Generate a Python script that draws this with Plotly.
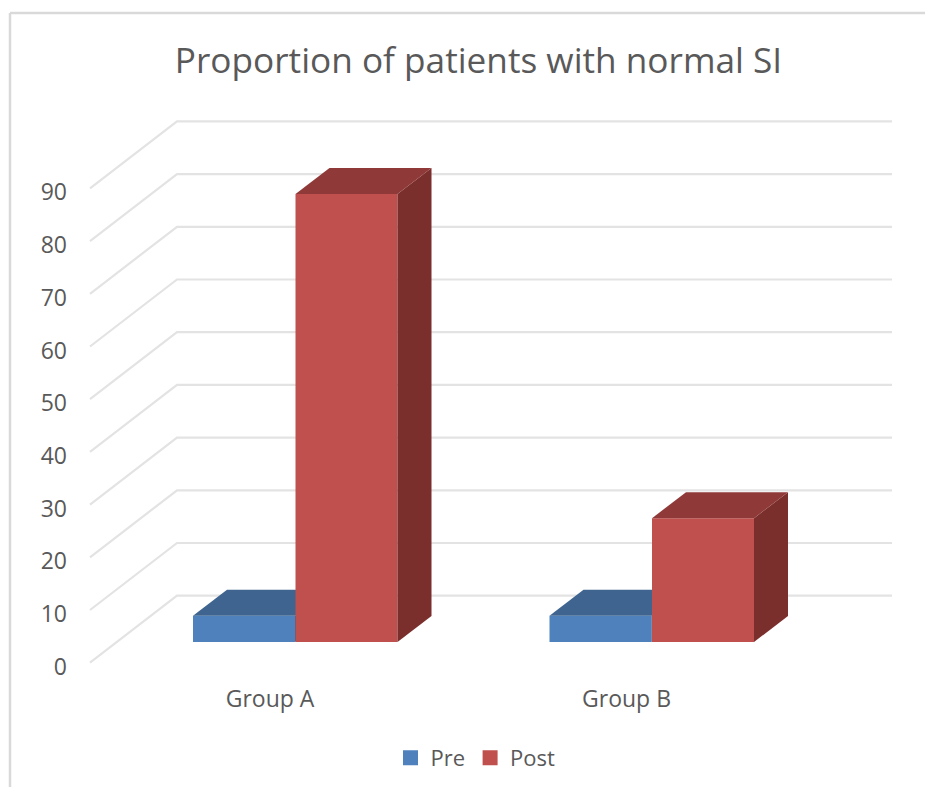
import plotly.graph_objects as go

# ---- data ----
categories = ["Group A", "Group B"]
pre_values = [5, 5]
post_values = [85, 23.5]
y_ticks = [0, 10, 20, 30, 40, 50, 60, 70, 80, 90]

# ---- pseudo-3D projection, in axis units ----
PX_X = 356.5      # pixels per category step
PX_Y = 5.27       # pixels per value unit
wall_dx, wall_dy = 87 / PX_X, 67 / PX_Y     # front plane to back wall
bar_dx, bar_dy = 34 / PX_X, 26 / PX_Y       # depth of one bar
floor = 20.7 / PX_Y                         # bar floor seen in the front plane
bar_w = 102 / PX_X
pre_off, post_off = -77 / PX_X, 25.5 / PX_X   # bar left edge relative to tick
wall_left = -180 / PX_X                     # front end of the grid lines
wall_right = 622 / PX_X

FONT = "Open Sans, Noto Sans, sans-serif"
TXT = "#595959"
GRID = "#e3e3e3"

fig = go.Figure()

# grid: diagonal side wall + back wall
gx, gy = [], []
for v in y_ticks:
    gx += [wall_left, wall_left + wall_dx, wall_right, None]
    gy += [v, v + wall_dy, v + wall_dy, None]
fig.add_trace(go.Scatter(x=gx, y=gy, mode="lines", showlegend=False, hoverinfo="skip",
                         line=dict(color=GRID, width=2.2), xaxis="x", yaxis="y"))


def faces(left, value, ax, ay, top_col, side_col):
    x0, x1 = left, left + bar_w
    t = floor + value
    fig.add_trace(go.Scatter(
        x=[x1, x1 + bar_dx, x1 + bar_dx, x1, x1],
        y=[floor, floor + bar_dy, t + bar_dy, t, floor],
        mode="lines", fill="toself", fillcolor=side_col, line=dict(width=0, color=side_col),
        showlegend=False, hoverinfo="skip", xaxis=ax, yaxis=ay))
    fig.add_trace(go.Scatter(
        x=[x0, x1, x1 + bar_dx, x0 + bar_dx, x0],
        y=[t, t, t + bar_dy, t + bar_dy, t],
        mode="lines", fill="toself", fillcolor=top_col, line=dict(width=0, color=top_col),
        showlegend=False, hoverinfo="skip", xaxis=ax, yaxis=ay))


def series(name, values, off, ax, ay, front, top, side):
    xs = [i + off + bar_w / 2 for i in range(len(values))]
    fig.add_trace(go.Bar(x=xs, y=values, base=[floor] * len(values), width=bar_w, name=name,
                         marker=dict(color=front, line=dict(width=0)), showlegend=False,
                         hoverinfo="skip", xaxis=ax, yaxis=ay))
    for i, v in enumerate(values):
        faces(i + off, v, ax, ay, top, side)
    # legend key (15 px swatch)
    fig.add_trace(go.Bar(x=[None], y=[None], name=name, marker=dict(color=front, line=dict(width=3, color=front)),
                         hoverinfo="skip", xaxis=ax, yaxis=ay))


series("Pre", pre_values, pre_off, "x2", "y2", "#4f81bd", "#3e648f", "#3a5f8a")
series("Post", post_values, post_off, "x3", "y3", "#c0504d", "#8f3a38", "#7b2f2d")

# plot area in pixels
W, H = 925, 787
L, R, T, B = 70, 905, 100, 680
xr = [(L - 270) / PX_X, (R - 270) / PX_X]
yr = [(662.7 - B) / PX_Y, (662.7 - T) / PX_Y]

hidden = dict(visible=False, fixedrange=True)
fig.update_layout(
    width=W, height=H, autosize=False,
    margin=dict(l=L, r=W - R, t=T, b=H - B, pad=0),
    paper_bgcolor="white", plot_bgcolor="white",
    barmode="overlay",
    font=dict(family=FONT, color=TXT, size=22),
    title=dict(text="Proportion of patients with normal SI", x=478.5 / W, xref="container", xanchor="center",
               y=1 - 61 / H, yref="container", yanchor="middle",
               font=dict(family=FONT, size=35.2, color=TXT)),
    xaxis=dict(range=xr, tickmode="array", tickvals=list(range(len(categories))), ticktext=categories,
               showgrid=False, zeroline=False, showline=False, ticks="", fixedrange=True,
               ticklabelstandoff=3,
               tickfont=dict(family=FONT, size=23, color=TXT)),
    yaxis=dict(range=yr, tickmode="array", tickvals=y_ticks, showgrid=False, zeroline=False,
               showline=False, ticks="", fixedrange=True, ticklabelstandoff=2, ticklabelshift=4,
               tickfont=dict(family=FONT, size=23, color=TXT)),
    xaxis2=dict(range=xr, overlaying="x", **hidden),
    yaxis2=dict(range=yr, overlaying="y", **hidden),
    xaxis3=dict(range=xr, overlaying="x", **hidden),
    yaxis3=dict(range=yr, overlaying="y", **hidden),
    legend=dict(orientation="h", xref="container", yref="container", x=475.5 / W, xanchor="center",
                y=1 - 758 / H, yanchor="middle", font=dict(family=FONT, size=22, color=TXT),
                itemclick=False, itemdoubleclick=False, traceorder="normal"),
    shapes=[
        dict(type="line", xref="paper", yref="paper", x0=(10 - L) / (R - L), x1=(10 - L) / (R - L),
             y0=(B - 787) / (B - T), y1=(B - 13) / (B - T), line=dict(color="#d9d9d9", width=2.5)),
        dict(type="line", xref="paper", yref="paper", x0=(10 - L) / (R - L), x1=(925 - L) / (R - L),
             y0=(B - 13) / (B - T), y1=(B - 13) / (B - T), line=dict(color="#d9d9d9", width=2.5)),
    ],
)

fig.write_html("out.html", config={"displayModeBar": False},
               post_script="document.body.style.margin='0';document.documentElement.style.overflow='hidden';")
